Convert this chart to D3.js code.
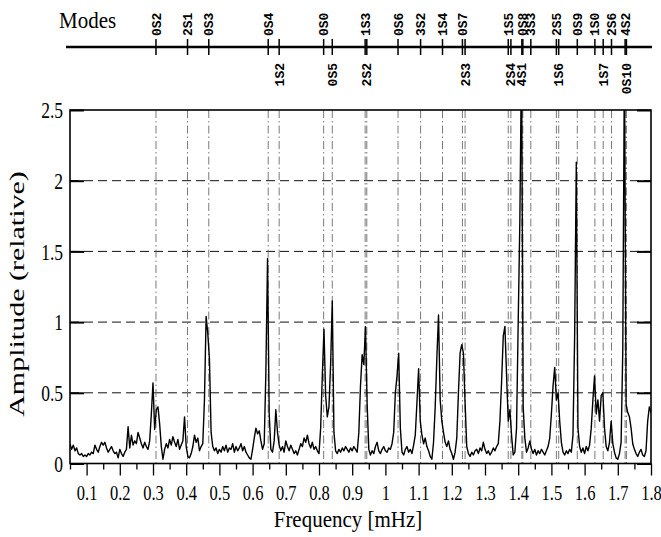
<!DOCTYPE html>
<html>
<head>
<meta charset="utf-8">
<script src="https://cdn.jsdelivr.net/npm/d3@7"></script>
<style>
  body { margin: 0; background: #fff; }
  svg { display: block; }
  text { font-family: "Liberation Serif", "Times New Roman", serif; fill: #000; }
</style>
</head>
<body>
<svg id="chart" width="661" height="537"></svg>
<script>
// Spectrum sampled every 0.005 mHz starting at 0.05 mHz
const freqStart = 0.05;
const freqStep = 0.005;
const amplitude = [
  0.14,0.10,0.13,0.09,0.11,0.07,0.06,0.07,0.05,0.06,
  0.05,0.07,0.06,0.08,0.07,0.13,0.10,0.08,0.12,0.15,
  0.13,0.15,0.11,0.08,0.10,0.12,0.09,0.07,0.08,0.04,
  0.10,0.07,0.05,0.08,0.10,0.26,0.11,0.20,0.13,0.16,
  0.14,0.22,0.18,0.14,0.11,0.15,0.12,0.10,0.16,0.35,
  0.57,0.24,0.38,0.40,0.28,0.12,0.03,0.10,0.14,0.11,
  0.17,0.13,0.19,0.15,0.12,0.17,0.10,0.13,0.16,0.33,
  0.12,0.05,0.04,0.07,0.12,0.20,0.15,0.18,0.09,0.12,
  0.14,0.45,1.04,0.92,0.74,0.22,0.12,0.09,0.11,0.07,
  0.10,0.08,0.12,0.09,0.13,0.08,0.11,0.10,0.14,0.08,
  0.12,0.09,0.11,0.14,0.09,0.12,0.08,0.06,0.04,0.03,
  0.10,0.18,0.25,0.21,0.23,0.16,0.10,0.14,0.65,1.45,
  0.35,0.10,0.08,0.16,0.38,0.22,0.13,0.09,0.12,0.08,
  0.16,0.12,0.09,0.13,0.10,0.07,0.09,0.06,0.10,0.14,
  0.12,0.18,0.15,0.20,0.14,0.11,0.15,0.10,0.12,0.09,
  0.07,0.25,0.62,0.95,0.48,0.33,0.40,0.70,1.15,0.22,
  0.09,0.07,0.10,0.08,0.11,0.09,0.12,0.10,0.08,0.11,
  0.09,0.12,0.10,0.08,0.22,0.55,0.77,0.70,0.97,0.42,
  0.10,0.06,0.09,0.07,0.12,0.15,0.09,0.07,0.10,0.12,
  0.09,0.08,0.11,0.10,0.14,0.22,0.50,0.62,0.78,0.25,
  0.08,0.06,0.10,0.12,0.08,0.10,0.07,0.13,0.20,0.43,
  0.67,0.30,0.20,0.14,0.18,0.12,0.09,0.05,0.03,0.15,
  0.40,0.75,1.05,0.45,0.30,0.22,0.15,0.12,0.16,0.10,
  0.07,0.03,0.08,0.18,0.50,0.78,0.84,0.78,0.43,0.12,
  0.07,0.05,0.08,0.06,0.09,0.10,0.07,0.11,0.09,0.15,
  0.10,0.07,0.09,0.06,0.08,0.11,0.09,0.12,0.14,0.30,
  0.58,0.90,0.97,0.62,0.30,0.38,0.20,0.06,0.08,0.25,
  1.00,1.72,2.90,0.40,0.18,0.08,0.11,0.16,0.10,0.07,
  0.10,0.06,0.09,0.07,0.10,0.08,0.06,0.09,0.12,0.18,
  0.35,0.55,0.68,0.45,0.50,0.30,0.15,0.08,0.06,0.09,
  0.07,0.10,0.08,0.20,0.90,2.13,0.25,0.12,0.08,0.11,
  0.07,0.12,0.09,0.13,0.25,0.45,0.62,0.35,0.45,0.30,
  0.48,0.50,0.25,0.12,0.09,0.15,0.30,0.14,0.08,0.04,
  0.03,0.07,0.15,0.80,2.90,0.42,0.36,0.33,0.25,0.14,
  0.10,0.07,0.05,0.08,0.10,0.06,0.05,0.09,0.30,0.40,0.36
];

// Normal-mode identifications and their frequencies (mHz)
const modeNames = ["0S2","2S1","0S3","0S4","1S2","0S0","0S5","1S3","2S2","0S6","3S2","1S4",
                   "0S7","2S3","1S5","2S4","4S1","0S8","3S3","2S5","1S6","0S9","1S0","1S7",
                   "2S6","4S2","0S10"];
const modeFreqs = [0.309,0.404,0.468,0.647,0.680,0.814,0.840,0.939,0.944,1.038,1.106,1.172,
                   1.232,1.240,1.370,1.378,1.411,1.414,1.438,1.515,1.522,1.578,1.631,1.656,
                   1.681,1.722,1.726];
const modesBelow = ["1S2","0S5","2S2","2S3","2S4","4S1","1S6","1S7","0S10"];

const xTickLabels = ["0.1","0.2","0.3","0.4","0.5","0.6","0.7","0.8","0.9","1",
                     "1.1","1.2","1.3","1.4","1.5","1.6","1.7","1.8"];
const xMinorTicks = [0.05,0.15,0.25,0.35,0.45,0.55,0.65,0.75,0.85,0.95,
                     1.05,1.15,1.25,1.35,1.45,1.55,1.65,1.75];
const yTickLabels = ["0","0.5","1","1.5","2","2.5"];

const svg = d3.select("#chart");
const L = 70, R = 651, T = 110, B = 463.5;
const serif = "'Liberation Serif','Times New Roman',serif";

const x = d3.scaleLinear().domain([0.05, 1.8]).range([L, R]);
const y = d3.scaleLinear().domain([0, 2.5]).range([B, T]);

svg.append("rect").attr("width", 661).attr("height", 537).attr("fill", "#fff");

// horizontal dashed grid
svg.append("g").selectAll("line")
  .data(yTickLabels.map(Number).filter(v => v > 0 && v < 2.5))
  .join("line")
  .attr("x1", L).attr("x2", R)
  .attr("y1", d => y(d)).attr("y2", d => y(d))
  .attr("stroke", "#111").attr("stroke-width", 1)
  .attr("stroke-dasharray", "9,5");

// dash-dot markers at each mode frequency
svg.append("g").selectAll("line")
  .data(modeFreqs)
  .join("line")
  .attr("x1", d => x(d)).attr("x2", d => x(d))
  .attr("y1", T).attr("y2", B)
  .attr("stroke", "#6a6a6a").attr("stroke-width", 0.9)
  .attr("stroke-dasharray", "8,3,1.5,3");

// spectrum trace
svg.append("clipPath").attr("id", "plotClip")
  .append("rect").attr("x", L).attr("y", T).attr("width", R - L).attr("height", B - T);

const line = d3.line()
  .x((d, i) => x(freqStart + i * freqStep))
  .y(d => y(d));

svg.append("path")
  .datum(amplitude)
  .attr("clip-path", "url(#plotClip)")
  .attr("d", line)
  .attr("fill", "none")
  .attr("stroke", "#000")
  .attr("stroke-width", 1.4)
  .attr("stroke-linejoin", "round");

// frame
svg.append("rect")
  .attr("x", L).attr("y", T).attr("width", R - L).attr("height", B - T)
  .attr("fill", "none").attr("stroke", "#000").attr("stroke-width", 1.6);

// x axis: major ticks with labels, minor ticks without
const xMajor = svg.append("g").attr("transform", `translate(0,${B})`)
  .call(d3.axisBottom(x)
    .tickValues(xTickLabels.map(Number))
    .tickFormat((d, i) => xTickLabels[i])
    .tickSize(12));
xMajor.select(".domain").remove();
xMajor.selectAll(".tick line").attr("stroke-width", 1.3);
xMajor.selectAll(".tick text")
  .attr("y", 0).attr("dy", 0)
  .attr("transform", "translate(0,36) scale(1,1.3)")
  .attr("font-size", 16.5)
  .attr("font-family", serif);

const xMinor = svg.append("g").attr("transform", `translate(0,${B})`)
  .call(d3.axisBottom(x).tickValues(xMinorTicks).tickFormat("").tickSize(6));
xMinor.select(".domain").remove();
xMinor.selectAll(".tick line").attr("stroke-width", 1.3);

// y axis: inward ticks on both sides
const yLeft = svg.append("g").attr("transform", `translate(${L},0)`)
  .call(d3.axisLeft(y)
    .tickValues(yTickLabels.map(Number))
    .tickFormat((d, i) => yTickLabels[i])
    .tickSize(-14));
yLeft.select(".domain").remove();
yLeft.selectAll(".tick line").attr("stroke-width", 2);
yLeft.selectAll(".tick text")
  .attr("x", 0).attr("dy", "0.34em")
  .attr("transform", "translate(-7,0) scale(1,1.3)")
  .attr("font-size", 17.5)
  .attr("font-family", serif);

const yRight = svg.append("g").attr("transform", `translate(${R},0)`)
  .call(d3.axisRight(y).tickValues(yTickLabels.map(Number)).tickFormat("").tickSize(-14));
yRight.select(".domain").remove();
yRight.selectAll(".tick line").attr("stroke-width", 2);

// axis titles
svg.append("text")
  .attr("transform", "translate(348,527) scale(1,1.12)")
  .attr("text-anchor", "middle").attr("font-size", 21)
  .attr("font-family", serif)
  .text("Frequency [mHz]");

svg.append("text")
  .attr("transform", "translate(24,294) rotate(-90) scale(1.5,1)")
  .attr("text-anchor", "middle").attr("font-size", 20)
  .attr("font-family", serif)
  .text("Amplitude (relative)");

// mode identification strip
const stripY = 47;
svg.append("text")
  .attr("transform", "translate(59,28) scale(1,1.08)")
  .attr("font-size", 21).attr("font-family", serif).text("Modes");

svg.append("line")
  .attr("x1", 66).attr("x2", 652).attr("y1", stripY).attr("y2", stripY)
  .attr("stroke", "#000").attr("stroke-width", 2.6);

const modes = modeNames.map((name, i) => ({ name, f: modeFreqs[i], below: modesBelow.includes(name) }));

svg.append("g").selectAll("line")
  .data(modes)
  .join("line")
  .attr("x1", d => x(d.f)).attr("x2", d => x(d.f))
  .attr("y1", stripY - 8).attr("y2", stripY + 8)
  .attr("stroke", "#000").attr("stroke-width", 1.5);

svg.append("g").selectAll("text")
  .data(modes)
  .join("text")
  .attr("transform", d => `translate(${x(d.f)},${d.below ? stripY + 16 : stripY - 11}) rotate(-90)`)
  .attr("text-anchor", d => d.below ? "end" : "start")
  .attr("dy", "0.35em")
  .attr("font-weight", "bold")
  .attr("font-size", 13)
  .style("font-family", "'Liberation Mono','DejaVu Sans Mono',monospace")
  .text(d => d.name);
</script>
</body>
</html>
